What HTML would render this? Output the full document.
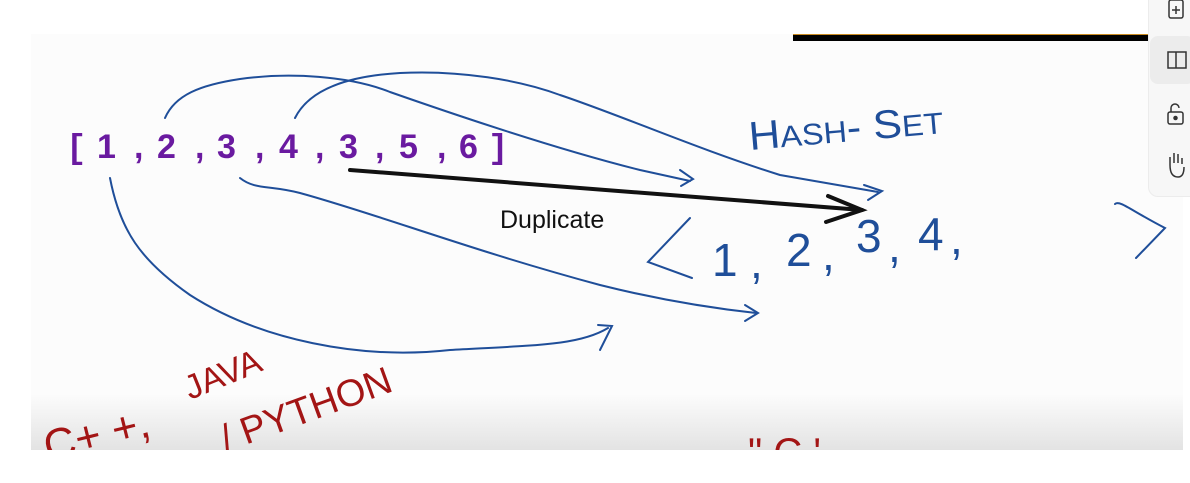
<!DOCTYPE html>
<html><head><style>
html,body{margin:0;padding:0;background:#fff;width:1190px;height:483px;overflow:hidden;position:relative;font-family:"Liberation Sans",sans-serif}
#board{position:absolute;left:31px;top:34px;width:1152px;height:416px;background:linear-gradient(#fcfcfc 0,#fcfcfc 360px,#e3e3e3 416px)}
#bar{position:absolute;left:793px;top:34px;width:355px;height:6px;background:#000;border-top:1px solid #c98a20}
#tb{position:absolute;left:1148px;top:-10px;width:50px;height:205px;background:#f7f7f7;border-radius:10px;border:1px solid #ececec}
#hl{position:absolute;left:1150px;top:36px;width:45px;height:48px;background:#ececec;border-radius:8px}
svg{position:absolute;left:0;top:0}
</style></head><body>
<div id="board"></div>
<div id="bar"></div>
<div id="tb"></div><div id="hl"></div>
<svg width="1190" height="483" viewBox="0 0 1190 483">
<defs><clipPath id="c"><rect x="31" y="34" width="1152" height="416"/></clipPath></defs>
<g fill="none" stroke="#333" stroke-width="1.5">
<rect x="1169" y="0" width="14" height="18" rx="2"/><path d="M1176 6v8M1172 10h8"/>
<path d="M1168 52h8v16h-8zM1176 52h10v16h-10z"/>
<rect x="1168" y="112" width="15" height="12" rx="2"/><path d="M1171 112v-4a4 4 0 0 1 8 0"/><circle cx="1175.5" cy="118" r="1.5" fill="#333"/>
<path d="M1170 165v-8M1174 163v-10M1178 163v-9M1182 164v-6M1170 165q0 12 8 12q6 0 6 -10"/>
</g>
<g fill="none" stroke="#1f4e99" stroke-width="2" stroke-linecap="round">
<path d="M165 118 C175 95 200 85 240 79 C290 72 350 76 390 92 C470 120 560 150 640 170 L690 181"/>
<path d="M680 170 L693 179 L681 186"/>
<path d="M295 118 C310 88 350 76 400 73 C460 70 520 80 560 95 C620 115 700 150 780 175 L878 192"/>
<path d="M864 185 L882 191 L868 200"/>
<path d="M240 178 C255 190 270 185 300 193 C380 215 470 250 600 285 C660 300 710 308 756 313"/>
<path d="M745 305 L758 313 L745 321"/>
<path d="M110 178 C120 230 140 260 190 295 C260 340 360 360 450 350 C540 345 580 345 608 328"/>
<path d="M598 325 L612 326 L600 350"/>
<path d="M690 218 L648 262 L692 278"/>
<path d="M1115 204 C1120 200 1130 210 1165 228 L1136 258"/>
</g>
<g fill="none" stroke="#111" stroke-width="4" stroke-linecap="round">
<path d="M350 170 L862 210"/><path d="M828 196 L862 210 L826 222"/>
</g>
<text x="66" y="158" font-size="34" font-weight="bold" fill="#6a1aa0" font-family="Liberation Mono,monospace">[</text>
<g font-size="34" font-weight="bold" fill="#6a1aa0" font-family="Liberation Sans,sans-serif">
<text x="97" y="158">1</text><text x="134" y="158">,</text>
<text x="157" y="158">2</text><text x="195" y="158">,</text>
<text x="217" y="158">3</text><text x="255" y="158">,</text>
<text x="279" y="158">4</text><text x="315" y="158">,</text>
<text x="339" y="158">3</text><text x="375" y="158">,</text>
<text x="399" y="158">5</text><text x="437" y="158">,</text>
<text x="459" y="158">6</text>
</g>
<text x="488" y="158" font-size="34" font-weight="bold" fill="#6a1aa0" font-family="Liberation Mono,monospace">]</text>
<text x="500" y="228" font-size="25" fill="#111">Duplicate</text>
<text x="750" y="150" font-size="40" fill="#1f4e99" transform="rotate(-5 750 150)" textLength="195" lengthAdjust="spacingAndGlyphs">H<tspan font-size="30">ASH</tspan>- S<tspan font-size="30">ET</tspan></text>
<g font-size="46" fill="#1f4e99">
<text x="712" y="276">1</text><text x="750" y="278">,</text>
<text x="786" y="266">2</text><text x="822" y="270">,</text>
<text x="856" y="252">3</text><text x="888" y="262">,</text>
<text x="918" y="250">4</text><text x="950" y="254">,</text>
</g>
<g fill="#a31515" clip-path="url(#c)">
<text x="48" y="462" font-size="44" transform="rotate(-14 48 462)">C+ +,</text>
<text x="190" y="400" font-size="34" transform="rotate(-22 190 400)">JAVA</text>
<text x="226" y="452" font-size="38" transform="rotate(-20 226 452)">/ PYTHON</text>
<text x="748" y="466" font-size="40">" C '</text>
</g>
</svg>
</body></html>
